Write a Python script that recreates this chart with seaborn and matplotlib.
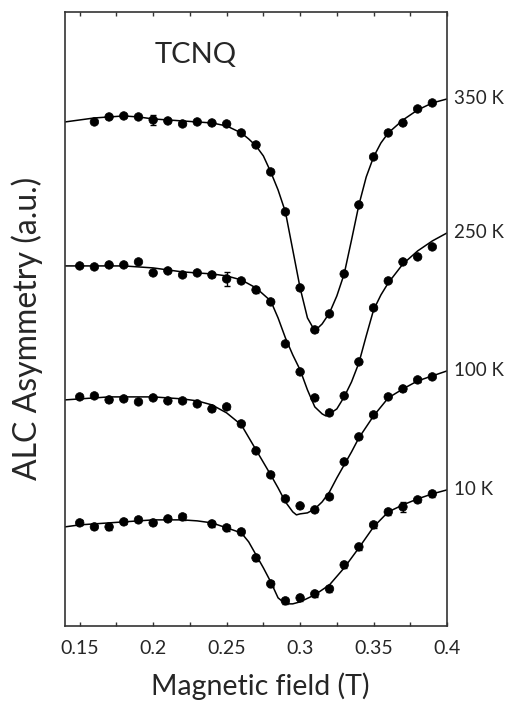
import numpy as np
import pandas as pd
import matplotlib
matplotlib.use("Agg")
import matplotlib.pyplot as plt
from matplotlib.ticker import FixedLocator, FixedFormatter
import seaborn as sns

# ---------------- data (a.u.) ----------------
x_350 = [0.16, 0.17, 0.18, 0.19, 0.20, 0.21, 0.22, 0.23, 0.24, 0.25, 0.26, 0.27, 0.28,
         0.29, 0.30, 0.31, 0.32, 0.33, 0.34, 0.35, 0.36, 0.37, 0.38, 0.39]
y_350 = [5.04, 5.09, 5.10, 5.09, 5.06, 5.05, 5.02, 5.04, 5.03, 5.02, 4.93, 4.81, 4.54,
         4.14, 3.38, 2.96, 3.12, 3.52, 4.21, 4.69, 4.93, 5.03, 5.17, 5.23]
e_350 = [0.01, 0.01, 0.01, 0.01, 0.05, 0.01, 0.01, 0.01, 0.01, 0.01, 0.01, 0.01, 0.01,
         0.01, 0.01, 0.02, 0.01, 0.01, 0.01, 0.01, 0.01, 0.01, 0.01, 0.01]

x_250 = [0.15, 0.16, 0.17, 0.18, 0.19, 0.20, 0.21, 0.22, 0.23, 0.24, 0.25, 0.26, 0.27,
         0.28, 0.29, 0.30, 0.31, 0.32, 0.33, 0.34, 0.35, 0.36, 0.37, 0.38, 0.39]
y_250 = [3.60, 3.59, 3.61, 3.61, 3.64, 3.53, 3.55, 3.51, 3.53, 3.51, 3.47, 3.45, 3.36,
         3.24, 2.82, 2.54, 2.28, 2.13, 2.30, 2.64, 3.18, 3.45, 3.64, 3.69, 3.79]
e_250 = [0.01, 0.01, 0.01, 0.01, 0.01, 0.01, 0.01, 0.01, 0.01, 0.02, 0.07, 0.01, 0.03,
         0.01, 0.01, 0.01, 0.01, 0.02, 0.01, 0.01, 0.01, 0.01, 0.01, 0.01, 0.01]

x_100 = [0.15, 0.16, 0.17, 0.18, 0.19, 0.20, 0.21, 0.22, 0.23, 0.24, 0.25, 0.26, 0.27,
         0.28, 0.29, 0.30, 0.31, 0.32, 0.33, 0.34, 0.35, 0.36, 0.37, 0.38, 0.39]
y_100 = [2.29, 2.30, 2.26, 2.27, 2.24, 2.28, 2.25, 2.25, 2.22, 2.17, 2.19, 2.02, 1.75,
         1.51, 1.27, 1.20, 1.16, 1.29, 1.64, 1.89, 2.11, 2.29, 2.37, 2.46, 2.49]
e_100 = [0.01, 0.01, 0.02, 0.01, 0.01, 0.01, 0.01, 0.01, 0.01, 0.02, 0.02, 0.02, 0.01,
         0.01, 0.01, 0.02, 0.01, 0.02, 0.01, 0.01, 0.02, 0.01, 0.02, 0.02, 0.01]

x_10 = [0.15, 0.16, 0.17, 0.18, 0.19, 0.20, 0.21, 0.22, 0.24, 0.25, 0.26, 0.27, 0.28,
        0.29, 0.30, 0.31, 0.32, 0.33, 0.34, 0.35, 0.36, 0.37, 0.38, 0.39]
y_10 = [1.03, 0.99, 0.99, 1.04, 1.06, 1.03, 1.07, 1.09, 1.02, 0.98, 0.94, 0.68, 0.42,
        0.25, 0.28, 0.32, 0.37, 0.61, 0.79, 1.01, 1.14, 1.19, 1.26, 1.32]
e_10 = [0.025, 0.025, 0.03, 0.025, 0.025, 0.025, 0.025, 0.03, 0.03, 0.03, 0.03, 0.03, 0.03,
        0.03, 0.03, 0.03, 0.03, 0.03, 0.03, 0.03, 0.03, 0.05, 0.025, 0.03]

# fitted curves
fx_350 = [0.14, 0.15, 0.16, 0.17, 0.18, 0.19, 0.20, 0.21, 0.22, 0.23, 0.24, 0.25, 0.26, 0.265,
          0.27, 0.275, 0.28, 0.285, 0.29, 0.295, 0.30, 0.305, 0.31, 0.315, 0.32, 0.325, 0.33,
          0.335, 0.34, 0.345, 0.35, 0.355, 0.36, 0.37, 0.38, 0.39, 0.40]
fy_350 = [5.04, 5.06, 5.08, 5.09, 5.10, 5.09, 5.07, 5.06, 5.05, 5.04, 5.03, 5.00, 4.93, 4.87,
          4.80, 4.70, 4.54, 4.36, 4.14, 3.76, 3.38, 3.08, 2.95, 3.02, 3.13, 3.30, 3.52,
          3.86, 4.21, 4.49, 4.69, 4.83, 4.93, 5.06, 5.16, 5.23, 5.27]

fx_250 = [0.14, 0.15, 0.16, 0.17, 0.18, 0.19, 0.20, 0.21, 0.22, 0.23, 0.24, 0.25, 0.26, 0.27,
          0.28, 0.285, 0.29, 0.295, 0.30, 0.305, 0.31, 0.315, 0.3175, 0.32, 0.325, 0.33, 0.335,
          0.34, 0.345, 0.35, 0.355, 0.36, 0.37, 0.38, 0.39, 0.40]
fy_250 = [3.60, 3.60, 3.60, 3.60, 3.60, 3.59, 3.58, 3.56, 3.54, 3.53, 3.52, 3.50, 3.46, 3.38,
          3.25, 3.08, 2.88, 2.71, 2.56, 2.36, 2.19, 2.12, 2.10, 2.12, 2.17, 2.29, 2.44,
          2.63, 2.90, 3.16, 3.31, 3.43, 3.62, 3.75, 3.85, 3.93]

fx_100 = [0.14, 0.15, 0.16, 0.17, 0.18, 0.19, 0.20, 0.21, 0.22, 0.23, 0.24, 0.25, 0.26, 0.27,
          0.28, 0.285, 0.29, 0.295, 0.2975, 0.30, 0.305, 0.31, 0.315, 0.32, 0.325, 0.33,
          0.335, 0.34, 0.35, 0.36, 0.37, 0.38, 0.39, 0.40]
fy_100 = [2.26, 2.27, 2.28, 2.29, 2.29, 2.29, 2.29, 2.28, 2.27, 2.25, 2.21, 2.13, 2.01, 1.76,
          1.51, 1.38, 1.24, 1.14, 1.11, 1.12, 1.13, 1.17, 1.24, 1.34, 1.48, 1.61,
          1.74, 1.88, 2.10, 2.28, 2.37, 2.45, 2.50, 2.55]

fx_10 = [0.14, 0.15, 0.16, 0.17, 0.18, 0.19, 0.20, 0.21, 0.22, 0.23, 0.24, 0.25, 0.26, 0.265,
         0.27, 0.275, 0.28, 0.285, 0.29, 0.295, 0.30, 0.31, 0.32, 0.33, 0.34, 0.35, 0.36,
         0.37, 0.38, 0.39, 0.40]
fy_10 = [0.99, 1.01, 1.02, 1.03, 1.04, 1.05, 1.06, 1.06, 1.06, 1.05, 1.03, 0.98, 0.93, 0.84,
         0.71, 0.58, 0.44, 0.28, 0.22, 0.22, 0.24, 0.31, 0.41, 0.58, 0.78, 0.99, 1.14,
         1.21, 1.27, 1.32, 1.36]

temps = ["350 K", "250 K", "100 K", "10 K"]
xticks = [0.15, 0.20, 0.25, 0.30, 0.35, 0.40]
xtick_labels = ["0.15", "0.2", "0.25", "0.3", "0.35", "0.4"]
minor_ticks = [0.175, 0.225, 0.275, 0.325, 0.375]

points = {"350 K": (x_350, y_350, e_350), "250 K": (x_250, y_250, e_250),
          "100 K": (x_100, y_100, e_100), "10 K": (x_10, y_10, e_10)}
fits = {"350 K": (fx_350, fy_350), "250 K": (fx_250, fy_250),
        "100 K": (fx_100, fy_100), "10 K": (fx_10, fy_10)}

pts_df = pd.concat([pd.DataFrame({"B": p[0], "A": p[1], "err": p[2], "T": t})
                    for t, p in points.items()], ignore_index=True)
fit_df = pd.concat([pd.DataFrame({"B": f[0], "A": f[1], "T": t})
                    for t, f in fits.items()], ignore_index=True)

# ---------------- plot ----------------
sns.set_theme(style="ticks")
plt.rcParams["font.family"] = ["Lato", "DejaVu Sans"]

fig = plt.figure(figsize=(5.08, 7.04), dpi=100)
ax = fig.add_axes([0.128, 0.111, 0.752, 0.872])

black = {t: "black" for t in temps}
sns.lineplot(data=fit_df, x="B", y="A", hue="T", units="T", estimator=None, sort=False,
             palette=black, linewidth=1.1, legend=False, ax=ax)
for t in temps:
    d = pts_df[pts_df["T"] == t]
    ax.errorbar(d["B"], d["A"], yerr=d["err"], fmt="none", ecolor="black",
                elinewidth=1.0, capsize=2.5, capthick=1.0, zorder=3)
sns.scatterplot(data=pts_df, x="B", y="A", hue="T", palette=black, s=38,
                edgecolor="black", linewidth=0.5, legend=False, ax=ax, zorder=4)

for t in temps:
    fx, fy = fits[t]
    ax.annotate(t, xy=(fx[-1], fy[-1]), xytext=(5, 0), textcoords="offset points",
                va="center", ha="left", fontsize=13.5, annotation_clip=False)

ax.text(0.2286, 5.71, "TCNQ", fontsize=21, ha="center", va="center")

ax.set_xlim(0.14, 0.40)
ax.set_ylim(0.0, 6.14)
ax.xaxis.set_major_locator(FixedLocator(xticks))
ax.xaxis.set_major_formatter(FixedFormatter(xtick_labels))
ax.xaxis.set_minor_locator(FixedLocator(minor_ticks))
ax.tick_params(axis="x", which="both", direction="in", top=True, bottom=True,
               length=3, width=1.0, color="#333333", labelsize=14, pad=10)
ax.set_yticks([])
for s in ax.spines.values():
    s.set_linewidth(1.2)
    s.set_color("#333333")

ax.set_xlabel("Magnetic field (T)", fontsize=20.5)
ax.xaxis.set_label_coords(0.51, -0.076)
ax.set_ylabel("ALC Asymmetry (a.u.)", fontsize=23)
ax.yaxis.set_label_coords(-0.058, 0.484)

fig.savefig("out.png", dpi=100)
